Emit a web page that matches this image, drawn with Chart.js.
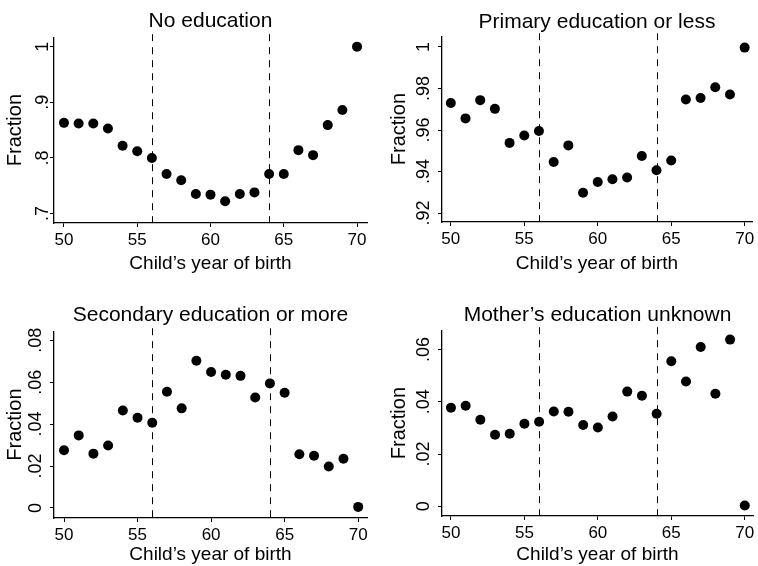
<!DOCTYPE html>
<html>
<head>
<meta charset="utf-8">
<script src="https://cdn.jsdelivr.net/npm/chart.js@4.4.0/dist/chart.umd.min.js"></script>
<style>
  body { margin: 0; background: #fff; }
  #wrap { position: relative; width: 758px; height: 566px; background: #fff; }
  .panel { position: absolute; width: 379px; height: 283px; }
</style>
</head>
<body>
<div id="wrap">
  <div class="panel" style="left:0;top:0"><canvas id="c1"></canvas></div>
  <div class="panel" style="left:379px;top:0"><canvas id="c2"></canvas></div>
  <div class="panel" style="left:0;top:283px"><canvas id="c3"></canvas></div>
  <div class="panel" style="left:379px;top:283px"><canvas id="c4"></canvas></div>
</div>
<script>
// Data: child's year of birth and fraction by mother's education
const years = [50, 51, 52, 53, 54, 55, 56, 57, 58, 59, 60, 61, 62, 63, 64, 65, 66, 67, 68, 69, 70];
const noEducation = [0.863, 0.862, 0.862, 0.853, 0.822, 0.812, 0.800, 0.771, 0.760, 0.735, 0.734, 0.722, 0.735, 0.738, 0.771, 0.771, 0.814, 0.805, 0.859, 0.886, 1.0];
const primary = [0.973, 0.9656, 0.9744, 0.9702, 0.9538, 0.9574, 0.9595, 0.9446, 0.9526, 0.9298, 0.935, 0.9363, 0.9371, 0.9475, 0.9406, 0.9453, 0.9747, 0.9754, 0.9806, 0.9771, 0.9997];
const secondary = [0.0275, 0.0346, 0.0259, 0.0298, 0.0465, 0.043, 0.0406, 0.0554, 0.0475, 0.0702, 0.0648, 0.0635, 0.063, 0.0527, 0.0594, 0.0549, 0.0256, 0.0249, 0.0198, 0.0235, 0.0005];
const unknown = [0.0377, 0.0385, 0.0331, 0.0274, 0.0278, 0.0316, 0.0324, 0.0363, 0.0362, 0.0311, 0.0302, 0.0344, 0.0439, 0.0423, 0.0354, 0.0555, 0.0478, 0.061, 0.0431, 0.0638, 0.0003];
const xTicks = [50, 55, 60, 65, 70];
const cutoffs = [56, 64];

const FONT = 'Liberation Sans, Arial, sans-serif';

// dashed vertical lines at the cutoff years
const cutoffLines = {
  id: 'cutoffLines',
  afterDatasetsDraw(chart) {
    const { ctx, chartArea, scales } = chart;
    ctx.save();
    ctx.strokeStyle = '#000';
    ctx.lineWidth = 1;
    ctx.setLineDash([7, 6]);
    cutoffs.forEach(v => {
      const x = Math.round(scales.x.getPixelForValue(v)) + 0.5;
      ctx.beginPath();
      ctx.moveTo(x, chartArea.top - 3);
      ctx.lineTo(x, chartArea.bottom);
      ctx.stroke();
    });
    ctx.restore();
  }
};

function makePanel(id, cfg) {
  const points = years.map((y, i) => ({ x: y, y: cfg.values[i] }));
  new Chart(document.getElementById(id), {
    type: 'scatter',
    data: {
      datasets: [{
        data: points,
        pointRadius: 5,
        pointHoverRadius: 5,
        pointBackgroundColor: '#000',
        pointBorderColor: '#000',
        pointBorderWidth: 0
      }]
    },
    options: {
      responsive: false,
      animation: false,
      events: [],
      layout: { padding: { left: 0, right: cfg.padRight, top: 0, bottom: cfg.padBottom } },
      plugins: {
        legend: { display: false },
        tooltip: { enabled: false },
        title: {
          display: true,
          fullSize: false,
          text: cfg.title,
          color: '#000',
          font: { family: FONT, size: 21, weight: 'normal', lineHeight: 1.2 },
          padding: { top: cfg.titleTop, bottom: cfg.titleBottom }
        }
      },
      scales: {
        x: {
          type: 'linear',
          min: cfg.xMin,
          max: cfg.xMax,
          afterBuildTicks: s => { s.ticks = xTicks.map(v => ({ value: v })); },
          afterFit: s => { s.height = cfg.xHeight; s.paddingLeft = 0; s.paddingRight = 0; },
          grid: { display: true, drawOnChartArea: false, drawTicks: true, tickLength: 4, color: '#000', lineWidth: 1 },
          border: { display: true, color: '#000', width: 1.3 },
          ticks: { color: '#000', padding: 3, font: { family: FONT, size: 17 }, maxRotation: 0 },
          title: {
            display: true,
            text: 'Child\u2019s year of birth',
            color: '#000',
            font: { family: FONT, size: 19, lineHeight: 1.2 },
            padding: { top: 0, bottom: 0 }
          }
        },
        y: {
          type: 'linear',
          min: cfg.yMin,
          max: cfg.yMax,
          afterBuildTicks: s => { s.ticks = cfg.yTicks.map(v => ({ value: v })); },
          afterFit: s => { s.width = cfg.yWidth; s.paddingTop = 0; s.paddingBottom = 0; },
          grid: { display: true, drawOnChartArea: false, drawTicks: true, tickLength: 4, color: '#000', lineWidth: 1 },
          border: { display: true, color: '#000', width: 1.3 },
          ticks: {
            color: '#000',
            minRotation: 90,
            maxRotation: 90,
            crossAlign: 'center',
            padding: cfg.yTickPad,
            font: { family: FONT, size: 18 },
            callback: v => cfg.yLabels[cfg.yTicks.indexOf(v)]
          },
          title: {
            display: true,
            text: 'Fraction',
            color: '#000',
            font: { family: FONT, size: 20, lineHeight: 1.2 },
            padding: { top: cfg.yTitlePad, bottom: 0 }
          }
        }
      }
    },
    plugins: [cutoffLines]
  });
}

// canvas sizes
['c1', 'c2', 'c3', 'c4'].forEach(id => {
  const c = document.getElementById(id);
  c.width = 379; c.height = 283;
  c.style.width = '379px'; c.style.height = '283px';
});

makePanel('c1', {
  title: 'No education', values: noEducation,
  yTicks: [0.7, 0.8, 0.9, 1], yLabels: ['.7', '.8', '.9', '1'],
  xMin: 49.32, xMax: 70.68, yMin: 0.683, yMax: 1.017,
  padRight: 12, padBottom: 8, titleTop: 9, titleBottom: 3,
  xHeight: 52, yWidth: 54, yTickPad: -1, yTitlePad: 3
});
makePanel('c2', {
  title: 'Primary education or less', values: primary,
  yTicks: [0.92, 0.94, 0.96, 0.98, 1], yLabels: ['.92', '.94', '.96', '.98', '1'],
  xMin: 49.4, xMax: 70.5, yMin: 0.9157, yMax: 1.0052,
  padRight: 6, padBottom: 8, titleTop: 10, titleBottom: 1,
  xHeight: 53, yWidth: 63, yTickPad: 1, yTitlePad: 8
});
makePanel('c3', {
  title: 'Secondary education or more', values: secondary,
  yTicks: [0, 0.02, 0.04, 0.06, 0.08], yLabels: ['0', '.02', '.04', '.06', '.08'],
  xMin: 49.32, xMax: 70.6, yMin: -0.0048, yMax: 0.0843,
  padRight: 12, padBottom: 0, titleTop: 20, titleBottom: 3,
  xHeight: 48, yWidth: 54, yTickPad: 1, yTitlePad: 3
});
makePanel('c4', {
  title: 'Mother\u2019s education unknown', values: unknown,
  yTicks: [0, 0.02, 0.04, 0.06], yLabels: ['0', '.02', '.04', '.06'],
  xMin: 49.39, xMax: 70.56, yMin: -0.0037, yMax: 0.0674,
  padRight: 5, padBottom: 0, titleTop: 20, titleBottom: 2,
  xHeight: 50, yWidth: 63, yTickPad: 1, yTitlePad: 8
});
</script>
</body>
</html>
